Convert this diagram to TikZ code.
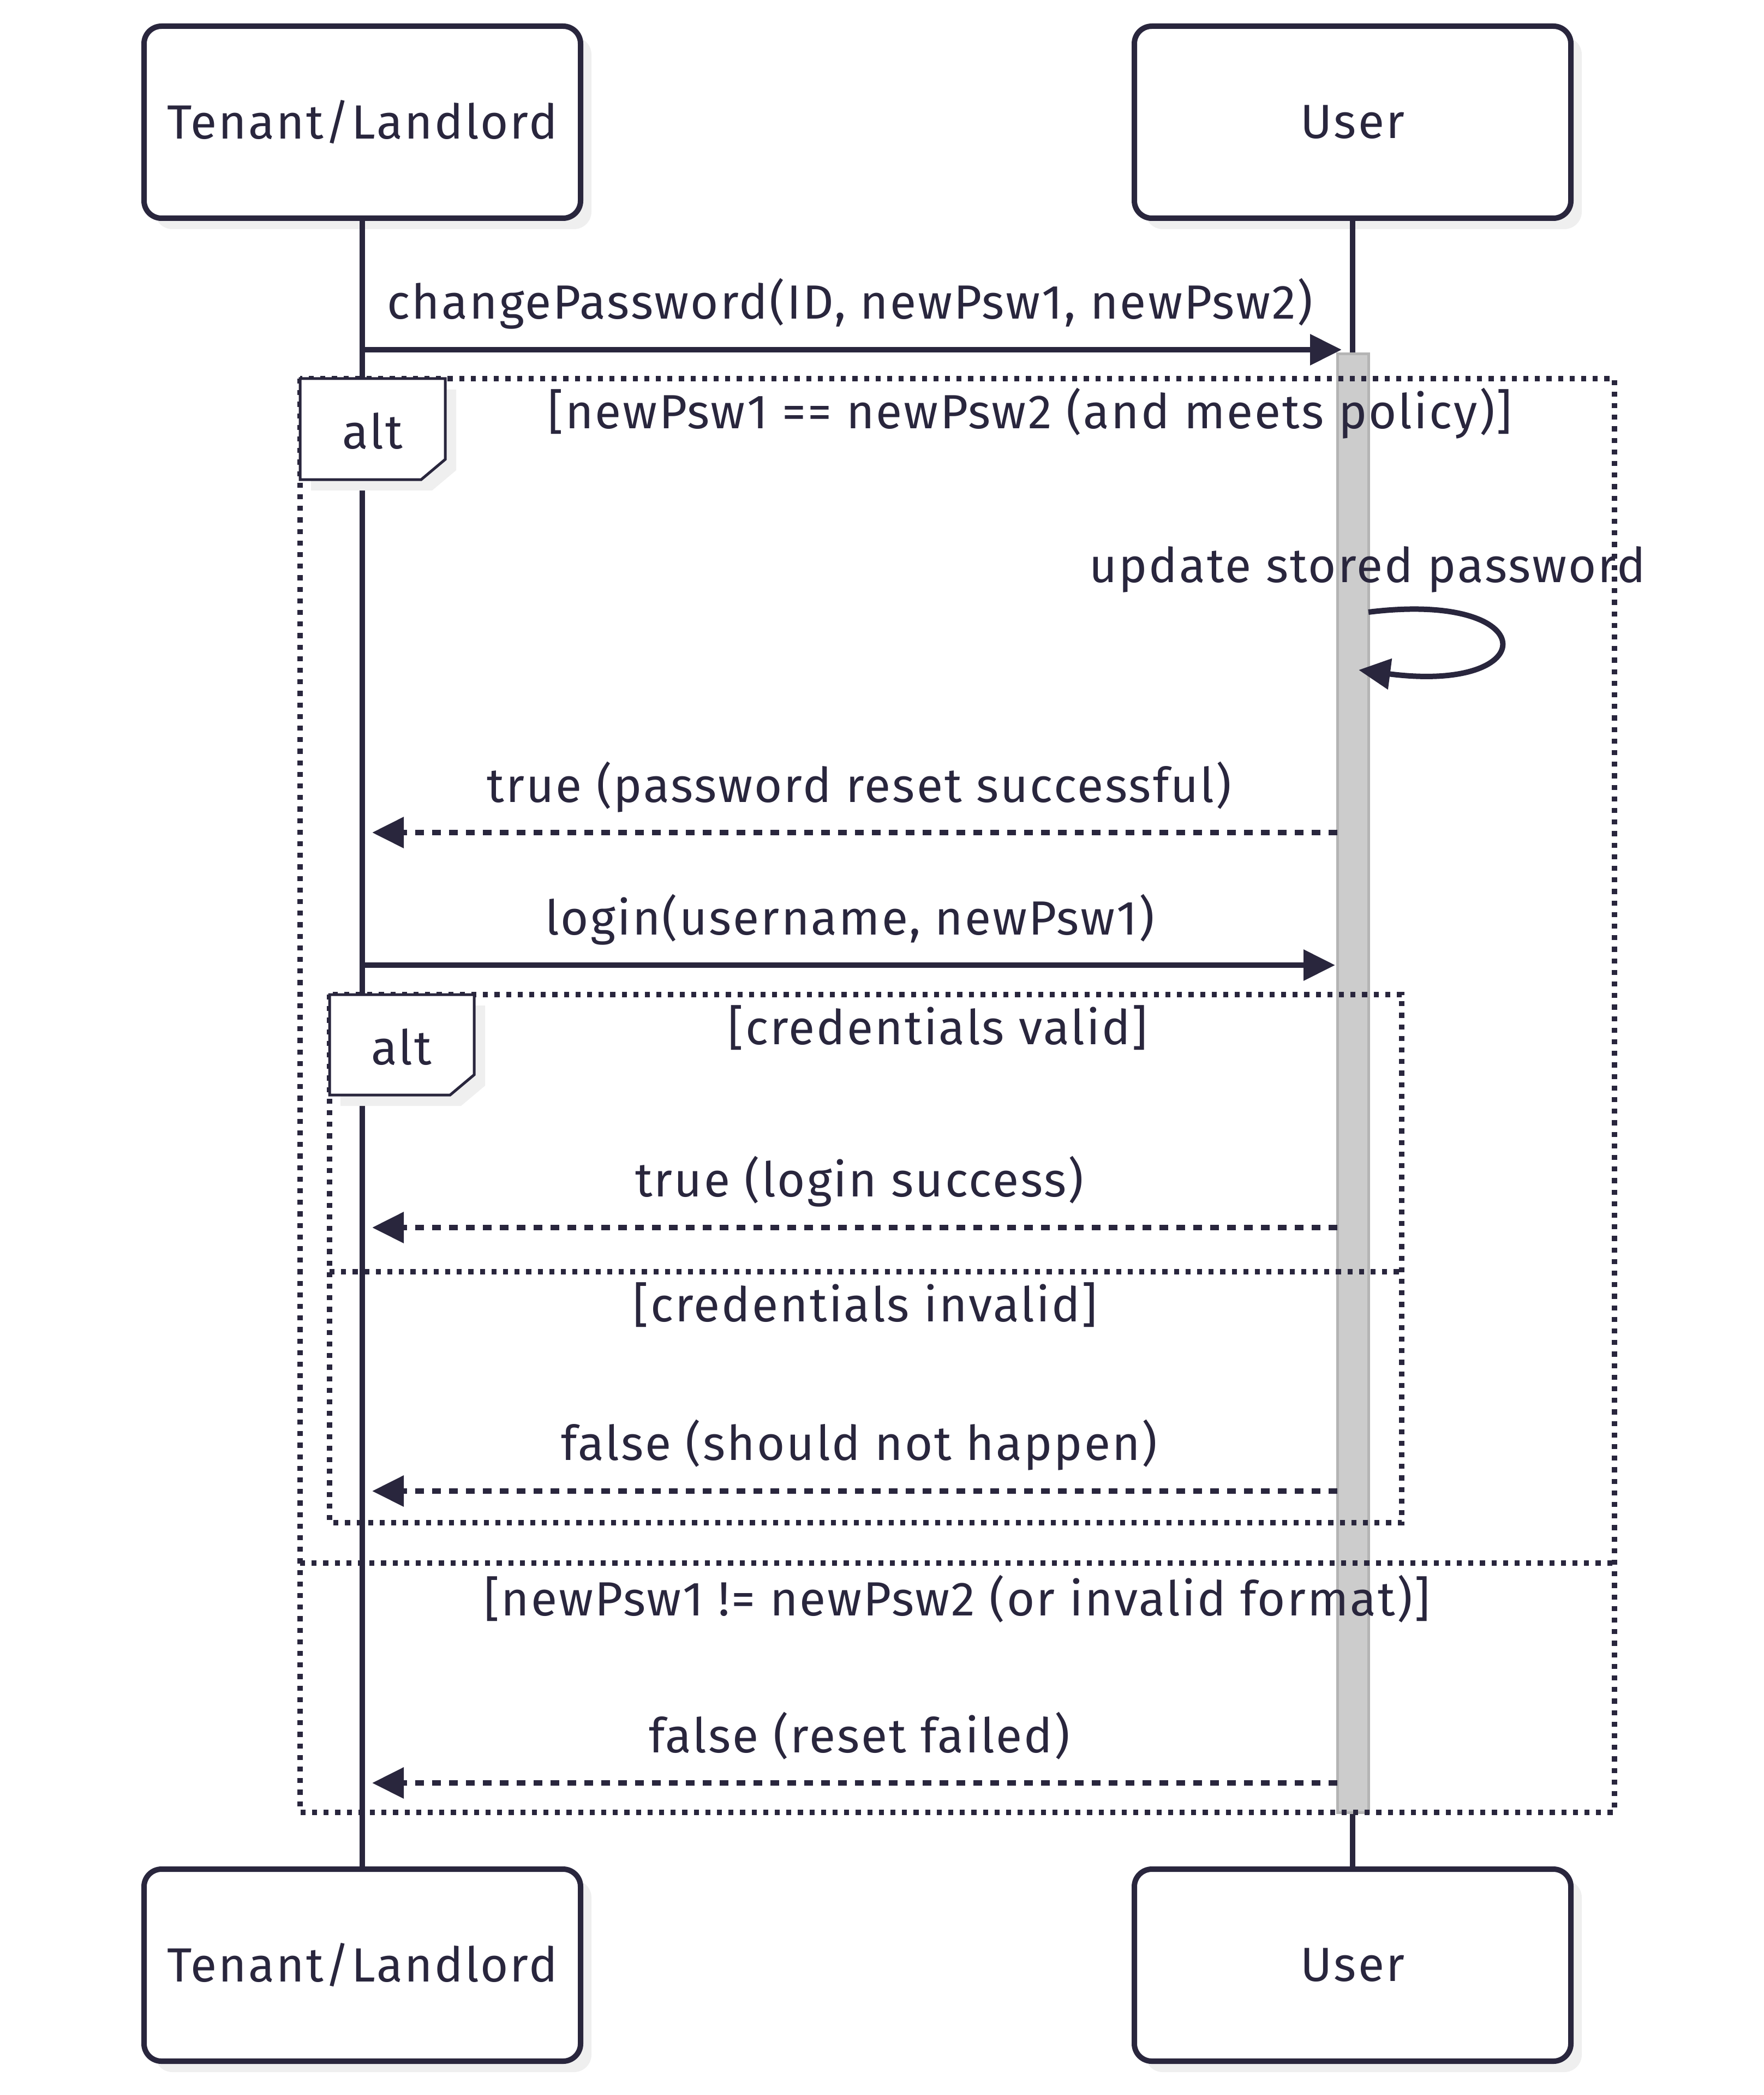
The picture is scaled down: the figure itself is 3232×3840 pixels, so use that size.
\documentclass[tikz,border=0pt]{standalone}
\usepackage{fontspec}
\setmainfont[LetterSpace=3.5]{Fira Sans}
\usetikzlibrary{arrows.meta,shadows,calc}
\definecolor{ink}{RGB}{41,38,61}
\definecolor{shadowc}{RGB}{239,239,239}
\definecolor{actfill}{RGB}{204,204,204}
\definecolor{actdraw}{RGB}{180,180,180}
\newcommand\diafont{\fontsize{22pt}{26pt}\selectfont}
\begin{document}
\begin{tikzpicture}[x=0.25pt,y=-0.25pt,
  actor/.style={draw=ink, line width=2.5pt, fill=white, rounded corners=8pt,
    minimum width=200pt, minimum height=88pt, inner sep=0pt, font=\diafont, text=ink,
    drop shadow={shadow xshift=5pt, shadow yshift=-5pt, fill=shadowc, opacity=1}},
  lifeline/.style={draw=ink, line width=2.5pt},
  msgtext/.style={anchor=base, font=\diafont, text=ink, inner sep=0pt},
  framebox/.style={draw=ink, line width=2.5pt, dash pattern=on 2.3pt off 3pt},
  altbox/.style={draw=ink, line width=1.25pt, fill=white},
  altshadow/.style={fill=shadowc},
  call/.style={draw=ink, line width=2.5pt, -{Triangle[length=14.5pt, width=13.75pt]}},
  reply/.style={draw=ink, line width=2.5pt, dash pattern=on 4pt off 3.75pt, -{Triangle[length=14.5pt, width=13.75pt]}},
  activation/.style={fill=actfill, draw=actdraw, line width=1.25pt}
]
\useasboundingbox (0,0) rectangle (3232,3840);

% actors
\node[actor] (tenantTop) at (664,224) {Tenant/Landlord};
\node[actor] (userTop) at (2479,224) {User};
\node[actor] (tenantBot) at (664,3602) {Tenant/Landlord};
\node[actor] (userBot) at (2479,3602) {User};

% lifelines (over the actor shadows)
\draw[lifeline] (tenantTop.south) -- (tenantBot.north);
\draw[lifeline] (userTop.south) -- (userBot.north);

% activation bar
\draw[activation] (2451,649) rectangle (2508,3322);

% outer alt frame
\draw[framebox] (550,694) rectangle (2959,3322);
\draw[framebox] (550,2865) -- (2959,2865);
\fill[altshadow] (570,714) -- (836,714) -- (836,862) -- (792,899) -- (570,899) -- cycle;
\draw[altbox] (550,694) -- (816,694) -- (816,842) -- (772,879) -- (550,879) -- cycle;
\node[msgtext] (alt1) at (683,822) {alt};
\node[msgtext] (cond1) at (1888,786) {[newPsw1 == newPsw2 (and meets policy)]};
\node[msgtext] (cond3) at (1754,2961) {[newPsw1 != newPsw2 (or invalid format)]};

% inner alt frame
\draw[framebox] (604,1823) rectangle (2569,2791);
\draw[framebox] (604,2331) -- (2569,2331);
\fill[altshadow] (624,1843) -- (889,1843) -- (889,1990) -- (845,2027) -- (624,2027) -- cycle;
\draw[altbox] (604,1823) -- (869,1823) -- (869,1970) -- (825,2007) -- (604,2007) -- cycle;
\node[msgtext] (alt2) at (736,1951) {alt};
\node[msgtext] (cond2a) at (1719,1914) {[credentials valid]};
\node[msgtext] (cond2b) at (1586,2422) {[credentials invalid]};

% message labels
\node[msgtext] (m1t) at (1558,585) {changePassword(ID, newPsw1, newPsw2)};
\node[msgtext] (m2t) at (2506,1067) {update stored password};
\node[msgtext] (m3t) at (1575,1470) {true (password reset successful)};
\node[msgtext] (m4t) at (1558,1713) {login(username, newPsw1)};
\node[msgtext] (m5t) at (1575,2193) {true (login success)};
\node[msgtext] (m6t) at (1575,2676) {false (should not happen)};
\node[msgtext] (m7t) at (1575,3212) {false (reset failed)};

% message endpoints
\coordinate (m1s) at (664,641);   \coordinate (m1e) at (2459,641);
\coordinate (m2s) at (2508,1122); \coordinate (m2e) at (2490,1228);
\coordinate (m3s) at (2451,1526); \coordinate (m3e) at (682,1526);
\coordinate (m4s) at (664,1769);  \coordinate (m4e) at (2447,1769);
\coordinate (m5s) at (2451,2250); \coordinate (m5e) at (682,2250);
\coordinate (m6s) at (2451,2733); \coordinate (m6e) at (682,2733);
\coordinate (m7s) at (2451,3268); \coordinate (m7e) at (682,3268);

\draw[call] (m1s) -- (m1e);
\draw[call] (m2s) .. controls (2830,1082) and (2830,1272) .. (m2e);
\draw[reply] (m3s) -- (m3e);
\draw[call] (m4s) -- (m4e);
\draw[reply] (m5s) -- (m5e);
\draw[reply] (m6s) -- (m6e);
\draw[reply] (m7s) -- (m7e);
\end{tikzpicture}
\end{document}
